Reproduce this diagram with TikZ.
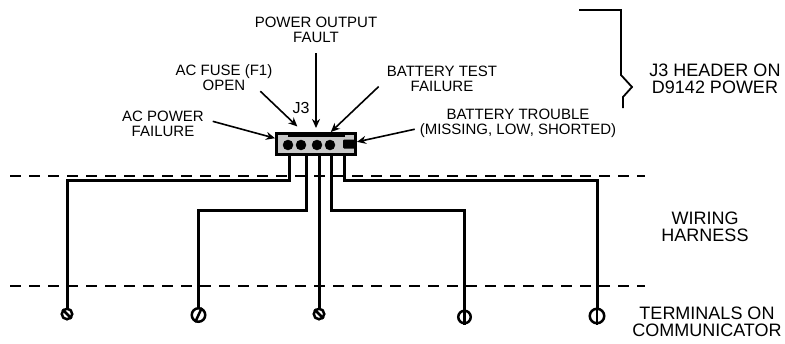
\documentclass[tikz,border=0pt]{standalone}
\usepackage{fontspec}
\setmainfont{Liberation Sans}
\usetikzlibrary{arrows.meta}
\tikzset{
    lbl/.style={align=center,font=\fontsize{15}{15}\selectfont,inner sep=0pt},
    biglbl/.style={align=center,font=\fontsize{18}{17}\selectfont,inner sep=0pt},
    wire/.style={line width=3pt},
    leader/.style={line width=1.6pt,-{Stealth[length=9pt,width=8pt]}},
    zone/.style={line width=2pt,dash pattern=on 11pt off 8pt},
    pin/.style={circle,fill=black,draw=black,inner sep=0pt,minimum size=10pt},
    terminal/.style={circle,draw,line width=2.5pt,inner sep=0pt,minimum size=10.5pt},
    slot/.style={line width=2.5pt}
}
\begin{document}
\begin{tikzpicture}[x=1pt,y=-1pt]
    \useasboundingbox (0,0) rectangle (785,343);
    %% Zone limits
    \coordinate (zoneAl) at (10,176);
    \coordinate (zoneAr) at (645,176);
    \coordinate (zoneBl) at (10,286);
    \coordinate (zoneBr) at (645,286);
    \coordinate (busA) at (0,180);
    \coordinate (busB) at (0,210);
    \draw[zone] (zoneAl) -- (zoneAr);
    \draw[zone] (zoneBl) -- (zoneBr);
    %% Header
    \node[draw,line width=3pt,fill=black!22,minimum width=79pt,minimum height=21pt,inner sep=0pt]
        (J3) at (316,144) {};
    \node[pin] (pinA) at (288,145) {};
    \node[pin] (pinB) at (301,145) {};
    \node[pin] (pinC) at (317,145) {};
    \node[pin] (pinD) at (330,145) {};
    \node[fill=black,rounded corners=1pt,minimum width=12pt,minimum height=9pt,inner sep=0pt]
        (pinE) at (349,144) {};
    \node[fill=black,minimum width=57pt,minimum height=2.5pt,inner sep=0pt]
        (key) at (316,135.5) {};
    %% Terminals
    \node[terminal] (termA) at (67,314) {};
    \node[terminal,minimum size=13.5pt] (termB) at (198.5,315) {};
    \node[terminal] (termC) at (319,314) {};
    \node[terminal,minimum size=12.5pt] (termD) at (464.5,317) {};
    \node[terminal,minimum size=14.5pt] (termE) at (597,316) {};
    \draw[slot] (termA.135) -- (termA.-45);
    \draw[slot] (termB.65) -- (termB.245);
    \draw[slot] (termC.135) -- (termC.-45);
    \draw[slot] (termD.north) -- (termD.south);
    \draw[slot] (termE.north) -- (termE.south);
    %% Harness
    \draw[wire] (pinA |- J3.south) ++(1,0) |- (termA |- busA) -- (termA);
    \draw[wire] (pinB |- J3.south) ++(5,0) |- (termB |- busB) -- (termB);
    \draw[wire] (pinC |- J3.south) ++(2,0) -- (termC);
    \draw[wire] (pinD |- J3.south) ++(1,0) |- (termD |- busB) -- (termD);
    \draw[wire] (pinE |- J3.south) ++(-5,0) |- (termE |- busA) -- (termE);
    %% Labels
    \node[lbl] (acpower) at (163,124) {AC POWER\\FAILURE};
    \node[lbl] (acfuse) at (224,78) {AC FUSE (F1)\\OPEN};
    \node[lbl] (output) at (316,30) {POWER OUTPUT\\FAULT};
    \node[lbl] (battest) at (442,79) {BATTERY TEST\\FAILURE};
    \node[lbl] (battrouble) at (518,123) {BATTERY TROUBLE\\(MISSING, LOW, SHORTED)};
    \node[lbl,font=\fontsize{16}{16}\selectfont] (j3text) at (301,108) {J3};
    \node[biglbl] (header) at (715,79) {J3 HEADER ON\\D9142 POWER};
    \node[biglbl] (harness) at (705,227) {WIRING\\HARNESS};
    \node[biglbl] (terminals) at (707,322) {TERMINALS ON\\COMMUNICATOR};
    %% Leaders
    \draw[leader,shorten <=9pt] (acpower.7) -- (J3.172);
    \draw[leader,shorten >=8pt] (acfuse.-20) -- (J3.137);
    \draw[leader,line width=2pt,shorten <=10pt,shorten >=4pt] (output.south) -- (J3.north);
    \draw[leader,shorten <=11pt] (battest.west) -- (J3.39);
    \draw[leader,shorten <=5pt] (battrouble.-177) -- (J3.3);
    %% Brace
    \draw[line width=1.8pt] (579,10) -- (621,10) -- (621,75) -- (632,87) -- (623,97) -- (623,108);
\end{tikzpicture}
\end{document}
